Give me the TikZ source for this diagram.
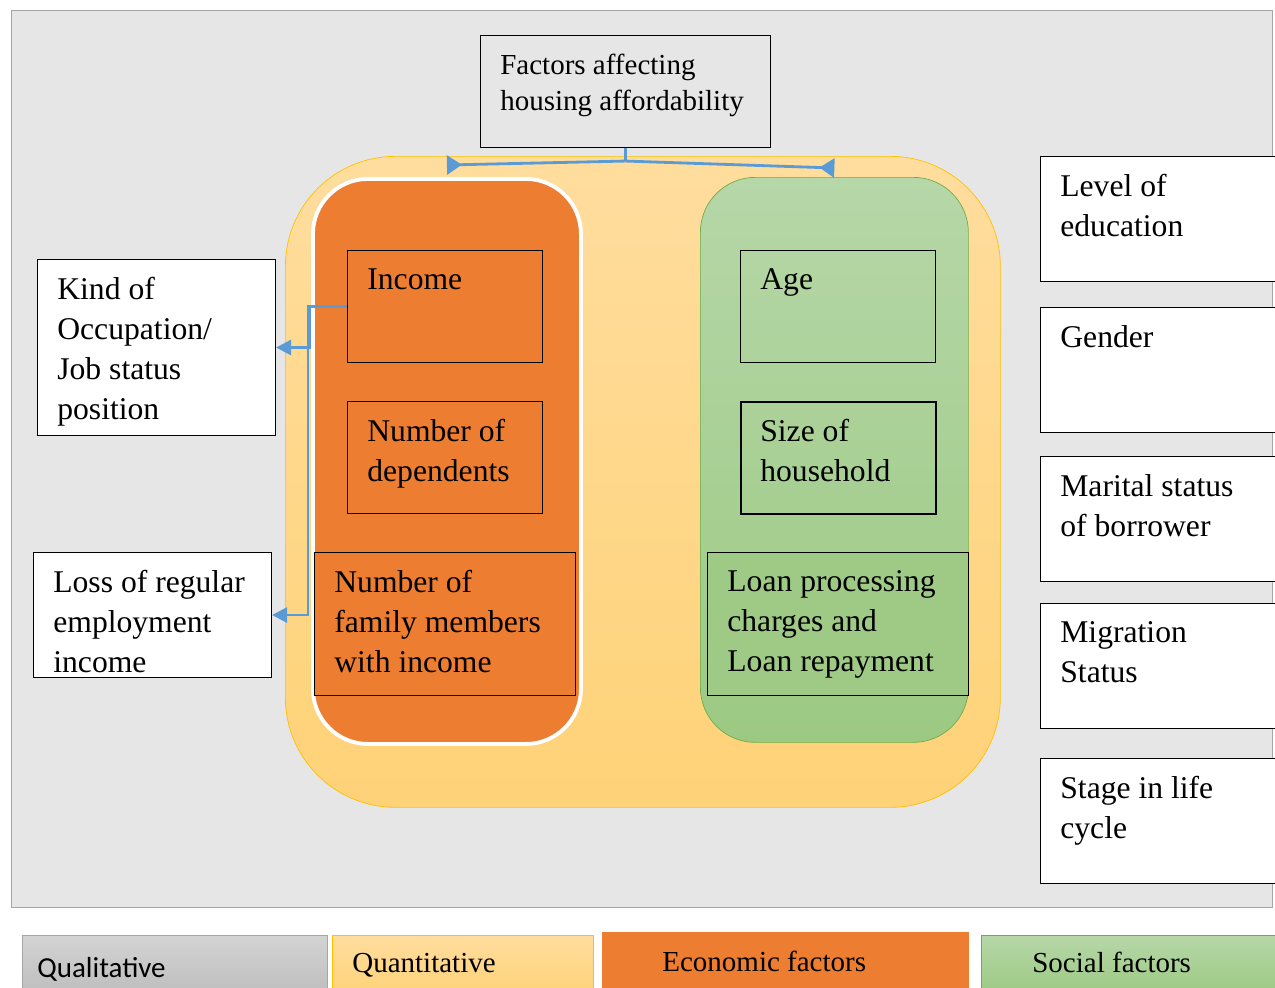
\documentclass[tikz,border=0pt]{standalone}
\usepackage{fontspec}
\setmainfont{Liberation Serif}
\newfontfamily\legendsans{Carlito}
\definecolor{PanelGrey}{RGB}{231,230,230}
\definecolor{EdgeGrey}{RGB}{166,166,166}
\definecolor{QuantTop}{RGB}{255,221,158}
\definecolor{QuantBottom}{RGB}{254,210,119}
\definecolor{QuantEdge}{RGB}{255,192,0}
\definecolor{EconOrange}{RGB}{237,125,49}
\definecolor{SocTop}{RGB}{182,215,168}
\definecolor{SocBottom}{RGB}{156,201,130}
\definecolor{SocEdge}{RGB}{112,173,71}
\definecolor{LinkBlue}{RGB}{91,155,213}
\usepackage{tikz}
\usetikzlibrary{arrows.meta, calc, positioning}

\tikzset{
  factor/.style={draw=black, line width=0.6pt, anchor=north west, inner sep=0pt},
  factortext/.style={anchor=north west, align=left, inner sep=0pt, xshift=4mm, yshift=-3.6mm,
                     font=\fontsize{18}{22.7}\selectfont},
  legtxt/.style={anchor=west, inner sep=0pt, font=\fontsize{16.5}{20}\selectfont},
  link/.style={draw=LinkBlue, line width=1.6pt},
}

\begin{document}
\begin{tikzpicture}[x=0.2mm, y=-0.2mm]
  \useasboundingbox (0,0) rectangle (1275,987);
  \clip (0,0) rectangle (1275,987);
  \draw[EdgeGrey, fill=PanelGrey] (11,10) rectangle (1272,907);

  % quantitative group with economic and social columns
  \node[anchor=north west, draw=QuantEdge, thin, top color=QuantTop, bottom color=QuantBottom,
        rounded corners=22mm, minimum width=143mm, minimum height=130.2mm] (quant) at (285,156) {};
  \node[anchor=north west, draw=white, line width=2.2pt, fill=EconOrange,
        rounded corners=11mm, minimum width=53.6mm, minimum height=113mm] (econ) at (311,177) {};
  \node[anchor=north west, draw=SocEdge, thin, top color=SocTop, bottom color=SocBottom,
        rounded corners=11mm, minimum width=53.6mm, minimum height=113mm] (social) at (700,177) {};

  \node[factor, minimum width=58mm, minimum height=22.4mm,
        label={[factortext, yshift=-0.1mm, font=\fontsize{16.5}{20.5}\selectfont]north west:Factors affecting\\housing affordability}] (title) at (480,35) {};

  \node[factor, minimum width=39mm, minimum height=22.4mm,
        label={[factortext]north west:Income}] (income) at (347,250) {};
  \node[factor, minimum width=39mm, minimum height=22.4mm,
        label={[factortext]north west:Number of\\dependents}] (deps) at (347,401) {};
  \node[factor, fill=EconOrange, minimum width=52.2mm, minimum height=28.6mm,
        label={[factortext]north west:Number of\\family members\\with income}] (faminc) at (314,552) {};

  \node[factor, minimum width=39mm, minimum height=22.4mm,
        label={[factortext]north west:Age}] (age) at (740,250) {};
  \node[factor, line width=1.4pt, minimum width=39mm, minimum height=22.4mm,
        label={[factortext]north west:Size of\\household}] (hhsize) at (740,401) {};
  \node[factor, fill=SocBottom!90!SocTop, minimum width=52.2mm, minimum height=28.6mm,
        label={[factortext]north west:Loan processing\\charges and\\Loan repayment}] (loan) at (707,552) {};

  % qualitative factors
  \node[factor, fill=white, minimum width=47.6mm, minimum height=35.2mm,
        label={[factortext]north west:Kind of\\Occupation/\\Job status\\position}] (occ) at (37,259) {};
  \node[factor, fill=white, minimum width=47.6mm, minimum height=25mm,
        label={[factortext]north west:Loss of regular\\employment\\income}] (loss) at (33,552) {};

  \node[factor, fill=white, minimum width=50mm, minimum height=25mm,
        label={[factortext]north west:Level of\\education}] (edu) at (1040,156) {};
  \node[factor, fill=white, minimum width=50mm, minimum height=25mm,
        label={[factortext]north west:Gender}] (gender) at (1040,307) {};
  \node[factor, fill=white, minimum width=50mm, minimum height=25mm,
        label={[factortext]north west:Marital status\\of borrower}] (marital) at (1040,456) {};
  \node[factor, fill=white, minimum width=50mm, minimum height=25mm,
        label={[factortext]north west:Migration\\Status}] (migr) at (1040,603) {};
  \node[factor, fill=white, minimum width=50mm, minimum height=25mm,
        label={[factortext]north west:Stage in life\\cycle}] (stage) at (1040,758) {};

  % connectors
  \draw[link] (title.south) -- ++(0,13) coordinate (split);
  \draw[link, -{Triangle[reversed, length=3mm, width=3.8mm]}] (split) -- ($(econ.north)+(0,-12)$);
  \draw[link, -{Triangle[reversed, length=3mm, width=3.8mm]}] (split) -- ($(social.north)+(0,-9)$);
  \draw[link, -{Triangle[length=3mm, width=3mm]}] (income.west) -- ++(-37,0) |- (occ.east);
  \draw[link, -{Triangle[length=3mm, width=3mm]}] (income.west) -- ++(-39,0) |- (loss.east);

  % legend
  \node[anchor=north west, draw=EdgeGrey, thin, top color=black!17, bottom color=black!26,
        minimum width=61mm, minimum height=12mm,
        label={[legtxt, font=\legendsans\fontsize{16.5}{20}\selectfont, xshift=3mm, yshift=-0.8mm]west:Qualitative}] (qual) at (22,935) {};
  \node[anchor=north west, draw=QuantEdge, thin, top color=QuantTop, bottom color=QuantBottom,
        minimum width=52.2mm, minimum height=12mm,
        label={[legtxt, xshift=4mm]west:Quantitative}] (quantleg) at (332,935) {};
  \node[anchor=north west, fill=EconOrange, minimum width=73.4mm, minimum height=13mm,
        label={[legtxt, xshift=12mm, yshift=0.6mm]west:Economic factors}] (econleg) at (602,932) {};
  \node[anchor=north west, draw=SocEdge, thin, top color=SocTop, bottom color=SocBottom,
        minimum width=60mm, minimum height=12mm,
        label={[legtxt, xshift=10.2mm, yshift=0.6mm]west:Social factors}] (socleg) at (981,935) {};
\end{tikzpicture}
\end{document}
